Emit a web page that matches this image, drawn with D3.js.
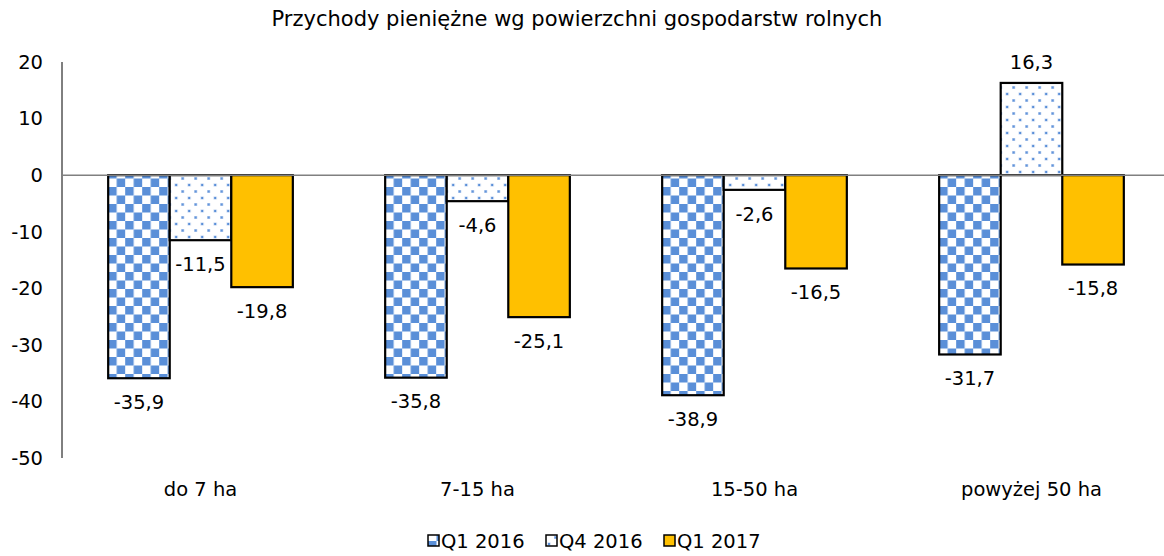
<!DOCTYPE html>
<html>
<head>
<meta charset="utf-8">
<script src="https://cdn.jsdelivr.net/npm/d3@7"></script>
<style>
  body { margin: 0; background: #fff; }
  text { font-family: "DejaVu Sans", sans-serif; fill: #000; }
</style>
</head>
<body>
<svg id="chart" width="1164" height="556"></svg>
<script>
// dane
var categories = ["do 7 ha", "7-15 ha", "15-50 ha", "powyżej 50 ha"];
var seriesNames = ["Q1 2016", "Q4 2016", "Q1 2017"];
var q1_2016 = [-35.9, -35.8, -38.9, -31.7];
var q4_2016 = [-11.5, -4.6, -2.6, 16.3];
var q1_2017 = [-19.8, -25.1, -16.5, -15.8];
var yTicks = [20, 10, 0, -10, -20, -30, -40, -50];
var title = "Przychody pieniężne wg powierzchni gospodarstw rolnych";

var seriesValues = [q1_2016, q4_2016, q1_2017];
var fills = ["url(#checker)", "url(#dots)", "#FFC000"];

var svg = d3.select("#chart");
var plotLeft = 62, plotRight = 1170, plotTop = 62, plotBottom = 458;
var fs = "19.5px";

// wzory
var defs = svg.append("defs");
var checker = defs.append("pattern").attr("id", "checker")
  .attr("patternUnits", "userSpaceOnUse").attr("width", 17).attr("height", 17);
checker.append("rect").attr("width", 17).attr("height", 17).attr("fill", "#fff");
checker.append("rect").attr("width", 8.5).attr("height", 8.5).attr("fill", "#5A8FD8");
checker.append("rect").attr("x", 8.5).attr("y", 8.5).attr("width", 8.5).attr("height", 8.5).attr("fill", "#5A8FD8");

var dots = defs.append("pattern").attr("id", "dots")
  .attr("patternUnits", "userSpaceOnUse").attr("width", 13).attr("height", 13);
dots.append("rect").attr("width", 13).attr("height", 13).attr("fill", "#fff");
[[2, 2], [8.5, 8.5]].forEach(function(p) {
  dots.append("rect").attr("x", p[0] - 0.5).attr("y", p[1] - 0.5).attr("width", 3).attr("height", 3).attr("fill", "#B7CDEE");
  dots.append("rect").attr("x", p[0]).attr("y", p[1]).attr("width", 2).attr("height", 2).attr("fill", "#5A8FD8");
});

var x0 = d3.scaleBand().domain(categories).range([plotLeft, plotRight]).paddingInner(0.3333).paddingOuter(0.1667);
var x1 = d3.scaleBand().domain(seriesNames).range([0, x0.bandwidth()]);
var y = d3.scaleLinear().domain([-50, 20]).range([plotBottom, plotTop]);

// tytuł
svg.append("text").attr("x", 577).attr("y", 19).attr("dy", "0.35em").attr("text-anchor", "middle")
  .style("font-size", "21px").text(title);

// oś Y
svg.append("line").attr("x1", plotLeft).attr("x2", plotLeft).attr("y1", plotTop).attr("y2", plotBottom)
  .attr("stroke", "#000").attr("stroke-width", 1);
svg.selectAll(".ytick").data(yTicks).enter().append("text")
  .attr("x", 43).attr("y", function(d) { return y(d); }).attr("dy", "0.35em")
  .attr("text-anchor", "end").style("font-size", fs).text(function(d) { return d; });

// słupki
var groups = svg.selectAll(".grp").data(categories).enter().append("g")
  .attr("transform", function(d) { return "translate(" + x0(d) + ",0)"; });

seriesNames.forEach(function(s, si) {
  groups.append("rect")
    .attr("x", x1(s))
    .attr("width", x1.bandwidth())
    .attr("y", function(d, i) { return y(Math.max(0, seriesValues[si][i])); })
    .attr("height", function(d, i) { return Math.abs(y(seriesValues[si][i]) - y(0)); })
    .attr("fill", fills[si]).attr("stroke", "#000").attr("stroke-width", 2.2);
  groups.append("text")
    .attr("x", x1(s) + x1.bandwidth() / 2)
    .attr("y", function(d, i) {
      var v = seriesValues[si][i];
      return v < 0 ? y(v) + 24 : y(v) - 21;
    })
    .attr("dy", "0.35em").attr("text-anchor", "middle").style("font-size", fs)
    .text(function(d, i) { return String(seriesValues[si][i]).replace(".", ","); });
});

// linia zero
svg.append("line").attr("x1", plotLeft).attr("x2", 1164).attr("y1", y(0)).attr("y2", y(0))
  .attr("stroke", "#808080").attr("stroke-width", 1.5);

// kategorie
svg.selectAll(".cat").data(categories).enter().append("text")
  .attr("x", function(d) { return x0(d) + x0.bandwidth() / 2; }).attr("y", 489)
  .attr("dy", "0.35em").attr("text-anchor", "middle").style("font-size", fs)
  .text(function(d) { return d; });

// legenda
var legendX = [428, 546, 664];
var leg = svg.selectAll(".leg").data(seriesNames).enter().append("g")
  .attr("transform", function(d, i) { return "translate(" + legendX[i] + ",541)"; });
leg.append("rect").attr("x", 0).attr("y", -6).attr("width", 11).attr("height", 11)
  .attr("fill", function(d, i) { return fills[i]; }).attr("stroke", "#000").attr("stroke-width", 1.5);
leg.append("text").attr("x", 13).attr("y", 0).attr("dy", "0.35em").style("font-size", fs)
  .text(function(d) { return d; });
</script>
</body>
</html>
